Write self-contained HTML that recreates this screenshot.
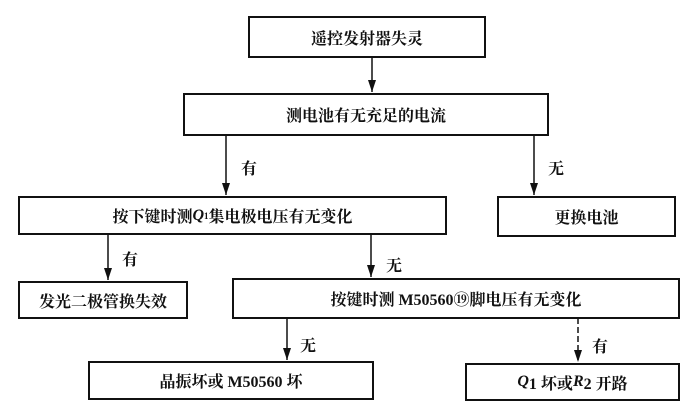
<!DOCTYPE html>
<html><head><meta charset="utf-8"><style>
body{margin:0;width:700px;height:414px;background:#fff;position:relative;overflow:hidden;font-family:"Liberation Serif","Noto Serif CJK SC","Noto Sans CJK SC",serif;}
.b{position:absolute;border:2.5px solid #111;box-sizing:border-box;display:flex;align-items:center;justify-content:center;font-size:16px;font-weight:bold;color:#111;}
.l{position:absolute;font-size:16px;font-weight:bold;color:#111;}
svg{position:absolute;left:0;top:0}
</style></head><body>
<svg width="700" height="414">
<defs><marker id="a" markerWidth="12" markerHeight="8" refX="12" refY="4" orient="auto" markerUnits="userSpaceOnUse"><path d="M0,0 L12,4 L0,8 Z" fill="#111"/></marker></defs>
<g stroke="#111" stroke-width="1.5" fill="none">
<line x1="372" y1="57" x2="372" y2="92" marker-end="url(#a)"/>
<line x1="226" y1="135" x2="226" y2="195" marker-end="url(#a)"/>
<line x1="534" y1="135" x2="534" y2="195" marker-end="url(#a)"/>
<line x1="108" y1="234" x2="108" y2="280" marker-end="url(#a)"/>
<line x1="371" y1="234" x2="371" y2="277" marker-end="url(#a)"/>
<line x1="287" y1="318" x2="287" y2="360" marker-end="url(#a)"/>
<line x1="578" y1="318" x2="578" y2="362" stroke-dasharray="6,3" marker-end="url(#a)"/>
</g></svg>
<div class="b" style="left:248px;top:16px;width:238px;height:42px">遥控发射器失灵</div>
<div class="b" style="left:183px;top:93px;width:366px;height:43px">测电池有无充足的电流</div>
<div class="b" style="left:18px;top:196px;width:429px;height:39px">按下键时测 <i>Q</i><sub style="font-size:9px">1</sub> 集电极电压有无变化</div>
<div class="b" style="left:497px;top:196px;width:179px;height:41px">更换电池</div>
<div class="b" style="left:18px;top:281px;width:170px;height:38px">发光二极管换失效</div>
<div class="b" style="left:232px;top:278px;width:448px;height:41px">按键时测 M50560⑲脚电压有无变化</div>
<div class="b" style="left:88px;top:361px;width:286px;height:39px">晶振坏或 M50560 坏</div>
<div class="b" style="left:465px;top:363px;width:215px;height:38px"><i>Q</i>1 坏或 <i>R</i>2 开路</div>
<div class="l" style="left:241px;top:156px">有</div>
<div class="l" style="left:548px;top:156px">无</div>
<div class="l" style="left:122px;top:247px">有</div>
<div class="l" style="left:386px;top:253px">无</div>
<div class="l" style="left:300px;top:333px">无</div>
<div class="l" style="left:592px;top:334px">有</div>
</body></html>
